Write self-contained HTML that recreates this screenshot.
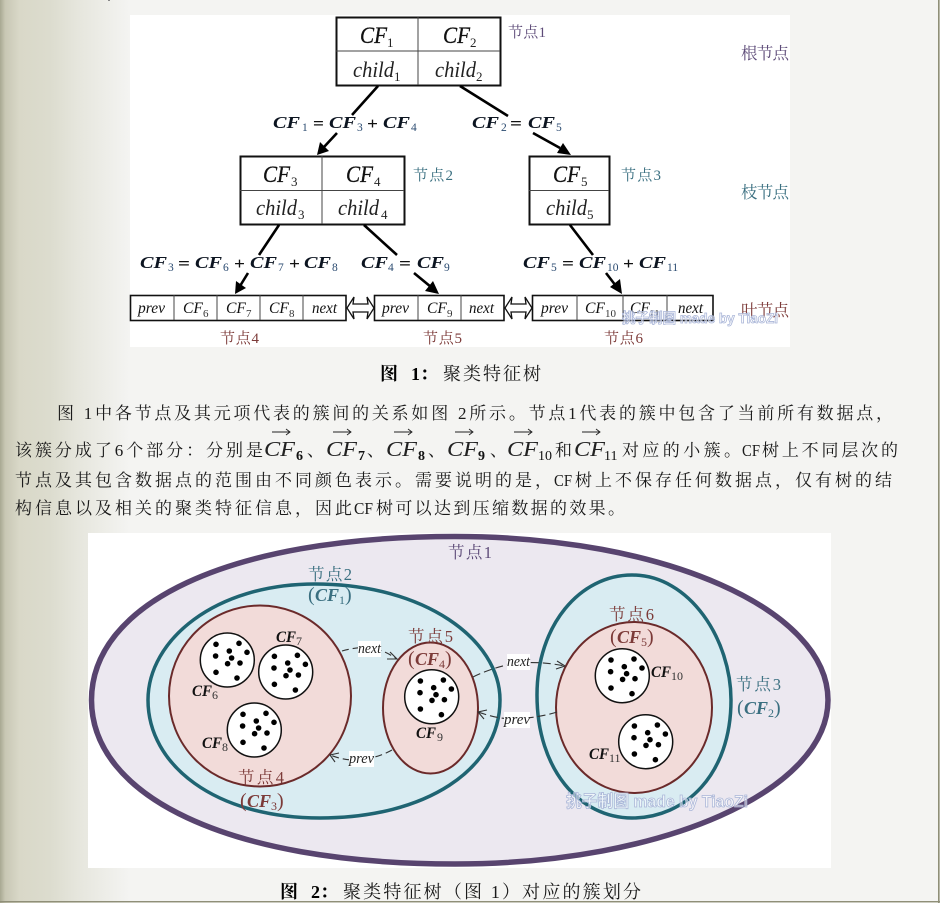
<!DOCTYPE html>
<html><head><meta charset="utf-8">
<style>
html,body{margin:0;padding:0;width:940px;height:903px;overflow:hidden;background:#f4f4f2}
svg{display:block}
text{font-family:"Liberation Serif","Noto Serif CJK SC",serif}
.p{font-size:17px;fill:#1a1a1a}
.cap{font-size:18px;fill:#1a1a1a}
.capb{font-size:18px;fill:#000;font-weight:bold}
.l{font-size:15px}
.L{font-size:16.5px}
.pu{fill:#5d4b78}.te{fill:#3a6f80}.re{fill:#7c3a38}
.b{font-style:italic;font-size:23px;fill:#111;stroke:#111;stroke-width:.3}
.bs{font-size:13px;fill:#222}
.c{font-style:italic;font-size:22px;fill:#222}
.lf{font-style:italic;font-size:15.5px;fill:#111}
.ls{font-size:11px;fill:#333}
.e{font-style:italic;font-weight:bold;font-size:17px;fill:#0c1420}
.es{font-size:11.5px;fill:#2a4a70}
.eo{font-size:17px;fill:#111;font-weight:bold}
.f{font-style:italic;font-weight:bold;font-size:16px;fill:#111}
.fs{font-size:12px;fill:#333}
.pr{font-size:20px}
.m{font-style:italic;font-size:21px;fill:#222}
.ms{font-size:14px;fill:#111}
.nx{font-style:italic;font-size:15px;fill:#222}
.wm{font-size:17px;font-weight:bold;fill:#fff;fill-opacity:.55;stroke:#aab6d8;stroke-width:.8;font-family:"Liberation Sans","Noto Sans CJK SC",sans-serif}
</style></head>
<body>
<svg xmlns="http://www.w3.org/2000/svg" width="940" height="903" viewBox="0 0 940 903">
<defs>
<linearGradient id="bg" x1="0" x2="1" y1="0" y2="0">
<stop offset="0" stop-color="#a8a892"/><stop offset=".04" stop-color="#c8c7b4"/><stop offset=".15" stop-color="#d9d8c8"/><stop offset=".38" stop-color="#dcdcce"/><stop offset=".6" stop-color="#e6e6dd"/><stop offset="1" stop-color="#f4f4f2"/>
</linearGradient>
<g id="cl">
<circle r="27" fill="#fff" stroke="#111" stroke-width="1.5"/>
<g fill="#000">
<circle cx="-11.3" cy="-15.7" r="2.8"/><circle cx="11.7" cy="-16.7" r="2.8"/><circle cx="2" cy="-9" r="2.8"/><circle cx="19.7" cy="-7.7" r="2.8"/><circle cx="-11.7" cy="-4" r="2.8"/><circle cx="4.3" cy="-2" r="2.8"/><circle cx="12.7" cy="3" r="2.8"/><circle cx=".3" cy="3.7" r="2.8"/><circle cx="-11.3" cy="12.3" r="2.8"/><circle cx="9.7" cy="18" r="2.8"/>
</g>
</g>
<g id="vec"><path d="M0 0H18M14 -3L18 0L14 3" fill="none" stroke="#222" stroke-width=".9"/></g>
</defs>

<rect width="940" height="903" fill="#f4f4f2"/>
<rect width="130" height="903" fill="url(#bg)"/>
<rect x="938" y="0" width="1.6" height="903" fill="#8f8f78"/>
<rect x="0" y="901" width="940" height="1.4" fill="#8f8f78"/>
<rect x="108" y="0" width="2" height="1" fill="#888"/>

<!-- Figure 1 -->
<rect x="130" y="15" width="660" height="332" fill="#fff"/>
<g fill="none" stroke="#111">
<rect x="336.5" y="17.5" width="164" height="68" stroke-width="2"/>
<path d="M336 51H500M418 17V85" stroke-width="1" stroke="#444"/>
<rect x="240.5" y="156.5" width="164" height="68" stroke-width="2"/>
<path d="M240 190.5H404M322 156V224" stroke-width="1" stroke="#444"/>
<rect x="529.5" y="156.5" width="80" height="68" stroke-width="2"/>
<path d="M529 190.5H609" stroke-width="1" stroke="#444"/>
<rect x="130.5" y="295.5" width="215.500" height="25" stroke-width="1.6"/>
<path d="M174 295V320M217 295V320M260 295V320M303 295V320" stroke-width="1" stroke="#444"/>
<rect x="374.500" y="295.500" width="129.500" height="25" stroke-width="1.600"/>
<path d="M418 295V320M461 295V320" stroke-width="1" stroke="#444"/>
<rect x="532.500" y="295.500" width="180.500" height="25" stroke-width="1.600"/>
<path d="M577 295V320M623 295V320M667 295V320" stroke-width="1" stroke="#444"/>
</g>
<g stroke="#000" stroke-width="2.600" fill="none">
<path d="M378 86L352 115M337 133L324 147"/>
<path d="M460 86L508 116M533 133L560 148"/>
<path d="M279 225L259 255M248 273L240 286"/>
<path d="M364 225L397 255M414 273L431 287"/>
<path d="M570 225L593 255M606 273L616 286"/>
</g>
<g fill="#000">
<path d="M317 155L320 142L329 151Z"/>
<path d="M571 155L557 153L563 143Z"/>
<path d="M235 294L236 281L246 288Z"/>
<path d="M439 294L425 291L433 281Z"/>
<path d="M622 294L610 287L620 279Z"/>
</g>
<g fill="#fff" stroke="#111" stroke-width="1.300">
<path d="M347 308L354 297L353 304H368L367 297L374 308L367 319L368 312H353L354 319Z"/>
<path d="M505 308L512 297L511 304H526L525 297L532 308L525 319L526 312H511L512 319Z"/>
</g>

<!-- box labels -->
<text class="b" x="360" y="43" textLength="27" lengthAdjust="spacingAndGlyphs">CF</text><text class="bs" x="387" y="47">1</text>
<text class="b" x="443" y="43" textLength="27" lengthAdjust="spacingAndGlyphs">CF</text><text class="bs" x="470" y="47">2</text>
<text class="c" x="353" y="77" textLength="41" lengthAdjust="spacingAndGlyphs">child</text><text class="bs" x="394" y="81">1</text>
<text class="c" x="435" y="77" textLength="41" lengthAdjust="spacingAndGlyphs">child</text><text class="bs" x="476" y="81">2</text>
<text class="b" x="263" y="182" textLength="27" lengthAdjust="spacingAndGlyphs">CF</text><text class="bs" x="291" y="186">3</text>
<text class="b" x="346" y="182" textLength="27" lengthAdjust="spacingAndGlyphs">CF</text><text class="bs" x="374" y="186">4</text>
<text class="b" x="553" y="182" textLength="27" lengthAdjust="spacingAndGlyphs">CF</text><text class="bs" x="581" y="186">5</text>
<text class="c" x="256" y="215" textLength="41" lengthAdjust="spacingAndGlyphs">child</text><text class="bs" x="298" y="219">3</text>
<text class="c" x="338" y="215" textLength="41" lengthAdjust="spacingAndGlyphs">child</text><text class="bs" x="381" y="219">4</text>
<text class="c" x="546" y="215" textLength="41" lengthAdjust="spacingAndGlyphs">child</text><text class="bs" x="587" y="219">5</text>

<text class="lf" x="138" y="313" textLength="27" lengthAdjust="spacingAndGlyphs">prev</text>
<text class="lf" x="183" y="313" textLength="20" lengthAdjust="spacingAndGlyphs">CF</text><text class="ls" x="203" y="317">6</text>
<text class="lf" x="226" y="313" textLength="20" lengthAdjust="spacingAndGlyphs">CF</text><text class="ls" x="246" y="317">7</text>
<text class="lf" x="269" y="313" textLength="20" lengthAdjust="spacingAndGlyphs">CF</text><text class="ls" x="289" y="317">8</text>
<text class="lf" x="312" y="313" textLength="25" lengthAdjust="spacingAndGlyphs">next</text>
<text class="lf" x="382" y="313" textLength="27" lengthAdjust="spacingAndGlyphs">prev</text>
<text class="lf" x="427" y="313" textLength="20" lengthAdjust="spacingAndGlyphs">CF</text><text class="ls" x="447" y="317">9</text>
<text class="lf" x="469" y="313" textLength="25" lengthAdjust="spacingAndGlyphs">next</text>
<text class="lf" x="541" y="313" textLength="27" lengthAdjust="spacingAndGlyphs">prev</text>
<text class="lf" x="585" y="313" textLength="20" lengthAdjust="spacingAndGlyphs">CF</text><text class="ls" x="605" y="317">10</text>
<text class="lf" x="630" y="313" textLength="20" lengthAdjust="spacingAndGlyphs">CF</text><text class="ls" x="649" y="317">11</text>
<text class="lf" x="678" y="313" textLength="25" lengthAdjust="spacingAndGlyphs">next</text>

<!-- equations -->
<text class="e" x="273" y="128" textLength="27" lengthAdjust="spacingAndGlyphs">CF</text><text class="es" x="302" y="131">1</text><text class="eo" x="313" y="129" textLength="11" lengthAdjust="spacingAndGlyphs">=</text>
<text class="e" x="329" y="128" textLength="27" lengthAdjust="spacingAndGlyphs">CF</text><text class="es" x="357" y="131">3</text><text class="eo" x="367" y="129" textLength="11" lengthAdjust="spacingAndGlyphs">+</text>
<text class="e" x="383" y="128" textLength="27" lengthAdjust="spacingAndGlyphs">CF</text><text class="es" x="411" y="131">4</text>

<text class="e" x="472" y="128" textLength="27" lengthAdjust="spacingAndGlyphs">CF</text><text class="es" x="501" y="131">2</text><text class="eo" x="510" y="129" textLength="12" lengthAdjust="spacingAndGlyphs">=</text>
<text class="e" x="528" y="128" textLength="27" lengthAdjust="spacingAndGlyphs">CF</text><text class="es" x="556" y="131">5</text>

<text class="e" x="140" y="268" textLength="27" lengthAdjust="spacingAndGlyphs">CF</text><text class="es" x="168" y="271">3</text><text class="eo" x="178" y="269" textLength="12" lengthAdjust="spacingAndGlyphs">=</text>
<text class="e" x="195" y="268" textLength="27" lengthAdjust="spacingAndGlyphs">CF</text><text class="es" x="223" y="271">6</text><text class="eo" x="234" y="269" textLength="11" lengthAdjust="spacingAndGlyphs">+</text>
<text class="e" x="250" y="268" textLength="27" lengthAdjust="spacingAndGlyphs">CF</text><text class="es" x="278" y="271">7</text><text class="eo" x="289" y="269" textLength="11" lengthAdjust="spacingAndGlyphs">+</text>
<text class="e" x="304" y="268" textLength="27" lengthAdjust="spacingAndGlyphs">CF</text><text class="es" x="332" y="271">8</text>

<text class="e" x="361" y="268" textLength="27" lengthAdjust="spacingAndGlyphs">CF</text><text class="es" x="388" y="271">4</text><text class="eo" x="399" y="269" textLength="12" lengthAdjust="spacingAndGlyphs">=</text>
<text class="e" x="417" y="268" textLength="27" lengthAdjust="spacingAndGlyphs">CF</text><text class="es" x="444" y="271">9</text>

<text class="e" x="523" y="268" textLength="27" lengthAdjust="spacingAndGlyphs">CF</text><text class="es" x="551" y="271">5</text><text class="eo" x="562" y="269" textLength="12" lengthAdjust="spacingAndGlyphs">=</text>
<text class="e" x="579" y="268" textLength="27" lengthAdjust="spacingAndGlyphs">CF</text><text class="es" x="607" y="271">10</text><text class="eo" x="623" y="269" textLength="11" lengthAdjust="spacingAndGlyphs">+</text>
<text class="e" x="639" y="268" textLength="27" lengthAdjust="spacingAndGlyphs">CF</text><text class="es" x="667" y="271">11</text>

<!-- node labels -->
<text class="l pu" x="508" y="37" textLength="38">节点1</text>
<text class="L pu" x="741" y="59" textLength="48">根节点</text>
<text class="l te" x="413" y="180" textLength="40">节点2</text>
<text class="l te" x="621" y="180" textLength="40">节点3</text>
<text class="L te" x="741" y="198" textLength="48">枝节点</text>
<text class="L re" x="741" y="316" textLength="48">叶节点</text>
<text class="l re" x="220" y="343" textLength="39">节点4</text>
<text class="l re" x="423" y="343" textLength="39">节点5</text>
<text class="l re" x="604" y="343" textLength="39">节点6</text>
<text class="wm" x="622" y="323" textLength="156" lengthAdjust="spacingAndGlyphs" style="font-size:14px">挑子制图 made by TiaoZi</text>

<!-- Caption 1 -->
<text class="capb" x="380" y="380">图</text><text class="capb" x="411" y="380">1：</text>
<text class="cap" x="443" y="380" textLength="98">聚类特征树</text>

<!-- Paragraph -->
<text class="p" x="57" y="419" textLength="836">图 1中各节点及其元项代表的簇间的关系如图 2所示。节点1代表的簇中包含了当前所有数据点，</text>
<text class="p" x="15" y="456" textLength="248">该簇分成了6个部分：分别是</text>
<text class="m" x="264" y="456" textLength="31" lengthAdjust="spacingAndGlyphs">CF</text><text class="ms" x="296" y="460" font-weight="bold">6</text>
<text class="p" x="307" y="456">、</text>
<text class="m" x="326" y="456" textLength="31" lengthAdjust="spacingAndGlyphs">CF</text><text class="ms" x="358" y="460" font-weight="bold">7</text>
<text class="p" x="367" y="456">、</text>
<text class="m" x="386" y="456" textLength="31" lengthAdjust="spacingAndGlyphs">CF</text><text class="ms" x="418" y="460" font-weight="bold">8</text>
<text class="p" x="428" y="456">、</text>
<text class="m" x="447" y="456" textLength="31" lengthAdjust="spacingAndGlyphs">CF</text><text class="ms" x="478" y="460" font-weight="bold">9</text>
<text class="p" x="490" y="456">、</text>
<text class="m" x="507" y="456" textLength="31" lengthAdjust="spacingAndGlyphs">CF</text><text class="ms" x="538" y="460">10</text>
<text class="p" x="555" y="456">和</text>
<text class="m" x="574" y="456" textLength="31" lengthAdjust="spacingAndGlyphs">CF</text><text class="ms" x="604" y="460">11</text>
<text class="p" x="622" y="456" textLength="119">对应的小簇。</text>
<text class="p" x="742" y="456" textLength="18" lengthAdjust="spacingAndGlyphs">CF</text>
<text class="p" x="762" y="456" textLength="136">树上不同层次的</text>
<use href="#vec" x="272" y="432"/><use href="#vec" x="333" y="432"/><use href="#vec" x="394" y="432"/><use href="#vec" x="455" y="432"/><use href="#vec" x="514" y="432"/><use href="#vec" x="582" y="432"/>
<text class="p" x="15" y="486" textLength="537">节点及其包含数据点的范围由不同颜色表示。需要说明的是，</text>
<text class="p" x="554" y="486" textLength="18" lengthAdjust="spacingAndGlyphs">CF</text>
<text class="p" x="575" y="486" textLength="317">树上不保存任何数据点，仅有树的结</text>
<text class="p" x="15" y="514" textLength="337">构信息以及相关的聚类特征信息，因此</text>
<text class="p" x="354" y="514" textLength="19" lengthAdjust="spacingAndGlyphs">CF</text>
<text class="p" x="376" y="514" textLength="249">树可以达到压缩数据的效果。</text>

<!-- Figure 2 -->
<rect x="88" y="533" width="743" height="335" fill="#fff"/>
<path d="M91.500 700C91.500 605 225 536.500 455 536.500C665 536.500 828 610 828 700C828 790 665 864 455 864C225 864 91.500 795 91.500 700Z" fill="#ece8f0" stroke="#58446f" stroke-width="5.500"/>
<path d="M148 700C148 640 215 584 315 584C425 584 500 640 500 700C500 770 425 818 320 818C215 818 148 765 148 700Z" fill="#d9ecf2" stroke="#1f6472" stroke-width="3.500"/>
<path d="M537 695C537 625 580 575 632 575C690 575 731 640 731 700C731 775 685 818 632 818C580 818 537 770 537 695Z" fill="#d9ecf2" stroke="#1f6472" stroke-width="3.500"/>
<ellipse cx="260" cy="696" rx="91" ry="90.500" fill="#f2dbd9" stroke="#6b2a2a" stroke-width="2"/>
<ellipse cx="430.500" cy="708" rx="47.500" ry="65.500" fill="#f2dbd9" stroke="#6b2a2a" stroke-width="2"/>
<ellipse cx="634" cy="707.500" rx="78" ry="85.500" fill="#f2dbd9" stroke="#6b2a2a" stroke-width="2"/>
<use href="#cl" x="227.300" y="660"/>
<use href="#cl" x="285.700" y="672"/>
<use href="#cl" x="254.300" y="730"/>
<use href="#cl" x="431.700" y="696.700"/>
<use href="#cl" x="622.300" y="675.700"/>
<use href="#cl" x="645.700" y="741.700"/>

<!-- dashed links -->
<g fill="none" stroke="#333" stroke-width="1.100">
<path d="M342 651C352 648 370 645 382 651C388 653 392 656 397 659" stroke-dasharray="7 4"/>
<path d="M390 652L397 659L387 659"/>
<path d="M473 677C485 671 500 666 512 664C530 661 550 663 565 666" stroke-dasharray="8 4"/>
<path d="M557 661L565 666L556 669"/>
<path d="M557 712C545 716 530 718 515 719C500 719 490 716 478 712" stroke-dasharray="8 4"/>
<path d="M487 710L478 712L484 719"/>
<path d="M392 750C385 754 370 760 355 760C345 760 338 758 330 755" stroke-dasharray="7 4"/>
<path d="M339 753L330 755L335 762"/>
</g>
<rect x="358" y="641" width="23" height="16" fill="#fff"/>
<rect x="507" y="654" width="23" height="16" fill="#fff"/>
<rect x="504" y="712" width="26" height="16" fill="#fff"/>
<rect x="349" y="751" width="25" height="16" fill="#fff"/>
<text class="nx" x="358" y="653" textLength="23" lengthAdjust="spacingAndGlyphs">next</text>
<text class="nx" x="507" y="666" textLength="23" lengthAdjust="spacingAndGlyphs">next</text>
<text class="nx" x="504" y="724" textLength="26" lengthAdjust="spacingAndGlyphs">prev</text>
<text class="nx" x="349" y="763" textLength="25" lengthAdjust="spacingAndGlyphs">prev</text>

<!-- Figure 2 labels -->
<text class="L pu" x="448" y="558" textLength="44">节点1</text>
<text class="L te" x="308" y="580" textLength="44">节点2</text>
<text class="pr te" x="308" y="601">(</text><text class="f" x="315" y="601" textLength="24" lengthAdjust="spacingAndGlyphs" style="fill:#3a6f80;font-size:18px">CF</text><text class="fs" x="339" y="604" style="fill:#3a6f80">1</text><text class="pr te" x="345" y="601">)</text>
<text class="L te" x="736" y="690" textLength="45">节点3</text>
<text class="pr te" x="737" y="714">(</text><text class="f" x="744" y="714" textLength="24" lengthAdjust="spacingAndGlyphs" style="fill:#3a6f80;font-size:18px">CF</text><text class="fs" x="768" y="717" style="fill:#3a6f80">2</text><text class="pr te" x="774" y="714">)</text>
<text class="L re" x="238" y="783" textLength="46">节点4</text>
<text class="pr re" x="240" y="807">(</text><text class="f" x="247" y="807" textLength="24" lengthAdjust="spacingAndGlyphs" style="fill:#7c3a38;font-size:18px">CF</text><text class="fs" x="271" y="810" style="fill:#7c3a38">3</text><text class="pr re" x="277" y="807">)</text>
<text class="L re" x="408" y="642" textLength="45">节点5</text>
<text class="pr re" x="408" y="665">(</text><text class="f" x="415" y="665" textLength="24" lengthAdjust="spacingAndGlyphs" style="fill:#7c3a38;font-size:18px">CF</text><text class="fs" x="439" y="668" style="fill:#7c3a38">4</text><text class="pr re" x="445" y="665">)</text>
<text class="L re" x="609" y="620" textLength="45">节点6</text>
<text class="pr re" x="610" y="643">(</text><text class="f" x="617" y="643" textLength="24" lengthAdjust="spacingAndGlyphs" style="fill:#7c3a38;font-size:18px">CF</text><text class="fs" x="641" y="646" style="fill:#7c3a38">5</text><text class="pr re" x="647" y="643">)</text>

<text class="f" x="276" y="642" textLength="20" lengthAdjust="spacingAndGlyphs">CF</text><text class="fs" x="296" y="645">7</text>
<text class="f" x="192" y="696" textLength="20" lengthAdjust="spacingAndGlyphs">CF</text><text class="fs" x="212" y="699">6</text>
<text class="f" x="202" y="748" textLength="20" lengthAdjust="spacingAndGlyphs">CF</text><text class="fs" x="222" y="751">8</text>
<text class="f" x="416" y="738" textLength="20" lengthAdjust="spacingAndGlyphs">CF</text><text class="fs" x="437" y="741">9</text>
<text class="f" x="651" y="677" textLength="20" lengthAdjust="spacingAndGlyphs">CF</text><text class="fs" x="671" y="680">10</text>
<text class="f" x="589" y="759" textLength="20" lengthAdjust="spacingAndGlyphs">CF</text><text class="fs" x="609" y="762">11</text>
<text class="wm" x="566" y="807" textLength="182" lengthAdjust="spacingAndGlyphs">挑子制图 made by TiaoZi</text>

<!-- Caption 2 -->
<text class="capb" x="280" y="898">图</text><text class="capb" x="311" y="898">2：</text>
<text class="cap" x="343" y="898" textLength="298">聚类特征树（图 1）对应的簇划分</text>
</svg>
</body></html>
